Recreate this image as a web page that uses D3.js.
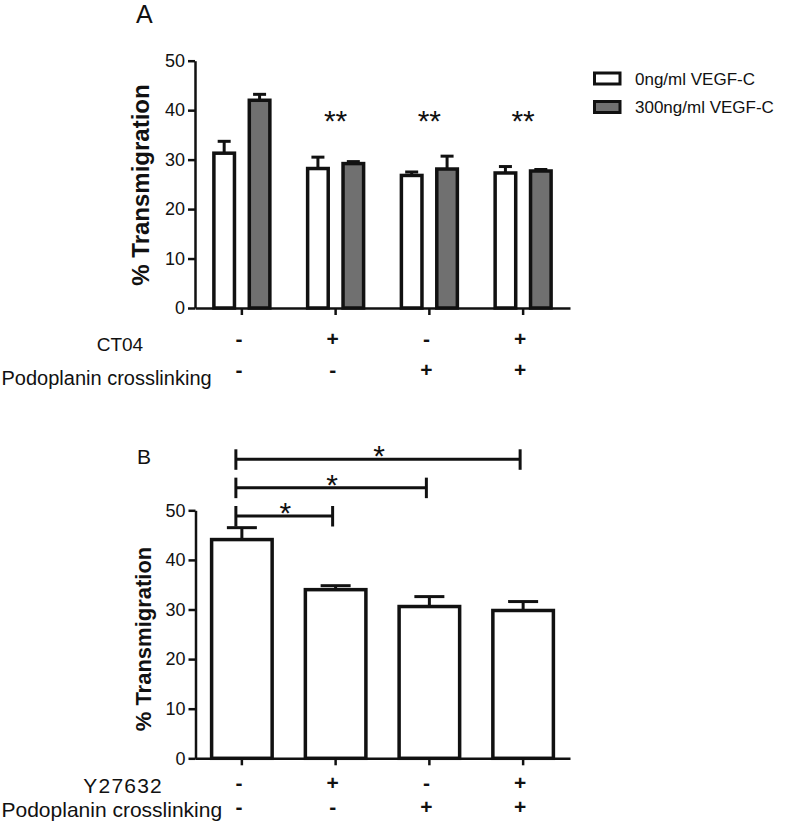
<!DOCTYPE html>
<html>
<head>
<meta charset="utf-8">
<script src="https://cdn.jsdelivr.net/npm/d3@7"></script>
<style>
  html, body { margin: 0; padding: 0; background: #fff; }
  svg { display: block; font-family: "Liberation Sans", Arial, sans-serif; }
</style>
</head>
<body>
<svg id="chart" width="800" height="829"></svg>
<script>
// ---------- DATA ----------
const groupsA = ["Control", "CT04", "Podoplanin", "CT04 + Podoplanin"];
const seriesNames = ["0ng/ml VEGF-C", "300ng/ml VEGF-C"];
const meanA0 = [31.3, 28.2, 26.8, 27.3];
const semA0 = [2.4, 2.3, 0.7, 1.3];
const meanA300 = [42.0, 29.2, 28.1, 27.7];
const semA300 = [1.2, 0.4, 2.6, 0.3];
const sigA = ["", "**", "**", "**"];
const ct04Row = ["-", "+", "-", "+"];
const podoRowA = ["-", "-", "+", "+"];

const groupsB = ["Control", "Y27632", "Podoplanin", "Y27632 + Podoplanin"];
const meanB = [44.1, 34.0, 30.6, 29.8];
const semB = [2.4, 0.8, 2.0, 1.8];
const y27Row = ["-", "+", "-", "+"];
const podoRowB = ["-", "-", "+", "+"];
const comparisonsB = [
  { from: 0, to: 1, label: "*" },
  { from: 0, to: 2, label: "*" },
  { from: 0, to: 3, label: "*" }
];
const yTicks = [0, 10, 20, 30, 40, 50];

// ---------- STYLE ----------
const ink = "#111";
const grey = "#707070";
const barStroke = 3.5;
const axisStroke = 2.5;
const svg = d3.select("#chart");

function drawYAxis(g, y, x0) {
  const ax = g.append("g").attr("transform", `translate(${x0},0)`)
    .call(d3.axisLeft(y).tickValues(yTicks).tickSize(7).tickPadding(3).tickSizeOuter(0));
  ax.select(".domain").attr("stroke", ink).attr("stroke-width", axisStroke);
  ax.selectAll(".tick line").attr("stroke", ink).attr("stroke-width", axisStroke);
  ax.selectAll(".tick text").attr("fill", ink).attr("font-size", 18)
    .attr("font-family", '"Liberation Sans", Arial, sans-serif');
  return ax;
}
function drawXAxis(g, x, y0) {
  const ax = g.append("g").attr("transform", `translate(0,${y0})`)
    .call(d3.axisBottom(x).tickSize(7).tickSizeOuter(0).tickFormat(""));
  ax.select(".domain").attr("stroke", ink).attr("stroke-width", axisStroke);
  ax.selectAll(".tick line").attr("stroke", ink).attr("stroke-width", axisStroke);
  return ax;
}
function errorBar(g, cx, yTop, yErr, capW) {
  g.append("line").attr("x1", cx).attr("x2", cx).attr("y1", yTop).attr("y2", yErr)
    .attr("stroke", ink).attr("stroke-width", 3);
  g.append("line").attr("x1", cx - capW / 2).attr("x2", cx + capW / 2).attr("y1", yErr).attr("y2", yErr)
    .attr("stroke", ink).attr("stroke-width", 3);
}
function signRow(g, x, groups, labels, baseline) {
  g.selectAll(null).data(labels).enter().append("text")
    .attr("x", (d, i) => x(groups[i]) + x.bandwidth() / 2 - 3)
    .attr("y", baseline)
    .attr("text-anchor", "middle")
    .attr("font-size", 21)
    .attr("font-weight", "bold")
    .attr("fill", ink)
    .text(d => d);
}

// ---------- PANEL A ----------
const gA = svg.append("g");
const xA = d3.scaleBand().domain(groupsA).range([195, 570]).paddingInner(0).paddingOuter(0);
const yA = d3.scaleLinear().domain([0, 50]).range([308, 60.7]);
const sub = d3.scaleBand().domain([0, 1]).range([-35.4, 35.4]).paddingInner(0.32).paddingOuter(0.16);

const seriesA = [
  { name: seriesNames[0], mean: meanA0, sem: semA0, fill: "#fff" },
  { name: seriesNames[1], mean: meanA300, sem: semA300, fill: grey }
];

seriesA.forEach((s, si) => {
  groupsA.forEach((gname, i) => {
    const cx = xA(gname) + xA.bandwidth() / 2 + sub(si) + sub.bandwidth() / 2;
    const w = sub.bandwidth() - barStroke;
    errorBar(gA, cx, yA(s.mean[i]), yA(s.mean[i] + s.sem[i]), 13);
    gA.append("rect")
      .attr("x", cx - w / 2).attr("width", w)
      .attr("y", yA(s.mean[i])).attr("height", yA(0) - yA(s.mean[i]))
      .attr("fill", s.fill).attr("stroke", ink).attr("stroke-width", barStroke);
  });
});
drawYAxis(gA, yA, 195);
drawXAxis(gA, xA, 308);

// significance stars A
gA.selectAll(".sigA").data(sigA).enter().append("text")
  .attr("x", (d, i) => xA(groupsA[i]) + xA.bandwidth() / 2)
  .attr("y", 130.5)
  .attr("text-anchor", "middle")
  .attr("font-size", 30)
  .attr("fill", ink)
  .text(d => d);

// Y label A
gA.append("text")
  .attr("transform", "translate(148.5,185) rotate(-90)")
  .attr("text-anchor", "middle").attr("font-size", 24).attr("font-weight", "bold").attr("fill", ink)
  .text("% Transmigration");

// panel label A
svg.append("text").attr("x", 136).attr("y", 23).attr("font-size", 25).attr("fill", ink).text("A");

// legend
seriesA.forEach((s, i) => {
  const ly = [71.5, 100][i];
  gA.append("rect").attr("x", 594.5).attr("y", ly + 1.5).attr("width", 25.5).attr("height", 11)
    .attr("fill", s.fill).attr("stroke", ink).attr("stroke-width", 3);
  gA.append("text").attr("x", 635).attr("y", ly + 13).attr("font-size", 17).attr("fill", ink).text(s.name);
});

// row labels A
gA.append("text").attr("x", 96.7).attr("y", 350.7).attr("font-size", 19).attr("fill", ink).text("CT04");
gA.append("text").attr("x", 1.5).attr("y", 385).attr("font-size", 20).attr("fill", ink).text("Podoplanin crosslinking");
signRow(gA, xA, groupsA, ct04Row, 346);
signRow(gA, xA, groupsA, podoRowA, 377);

// ---------- PANEL B ----------
const gB = svg.append("g");
const xB = d3.scaleBand().domain(groupsB).range([195, 570]).paddingInner(0.317).paddingOuter(0.1585);
const yB = d3.scaleLinear().domain([0, 50]).range([758.3, 510.3]);

groupsB.forEach((gname, i) => {
  const cx = xB(gname) + xB.bandwidth() / 2;
  const w = xB.bandwidth() - barStroke;
  errorBar(gB, cx, yB(meanB[i]), yB(meanB[i] + semB[i]), 30);
  gB.append("rect")
    .attr("x", cx - w / 2).attr("width", w)
    .attr("y", yB(meanB[i])).attr("height", yB(0) - yB(meanB[i]))
    .attr("fill", "#fff").attr("stroke", ink).attr("stroke-width", barStroke);
});
drawYAxis(gB, yB, 195.5);
const xBaxis = d3.scaleBand().domain(groupsB).range([195, 570]);
drawXAxis(gB, xBaxis, 758.3);

// comparison brackets
comparisonsB.forEach((c, i) => {
  const ly = yB(50) + 5.7 - i * 28.35;
  const x1 = xB(groupsB[c.from]) + xB.bandwidth() / 2 - 6;
  const x2 = xB(groupsB[c.to]) + xB.bandwidth() / 2 - 3;
  gB.append("line").attr("x1", x1).attr("x2", x2).attr("y1", ly).attr("y2", ly)
    .attr("stroke", ink).attr("stroke-width", 3);
  [x1, x2].forEach(xx => gB.append("line").attr("x1", xx).attr("x2", xx)
    .attr("y1", ly - 10).attr("y2", ly + 10.5).attr("stroke", ink).attr("stroke-width", 3));
  gB.append("text").attr("x", (x1 + x2) / 2 + 1).attr("y", ly + 7)
    .attr("text-anchor", "middle").attr("font-size", 30).attr("fill", ink).text(c.label);
});

// Y label B
gB.append("text")
  .attr("transform", "translate(150.5,639) rotate(-90)")
  .attr("text-anchor", "middle").attr("font-size", 22).attr("font-weight", "bold").attr("fill", ink)
  .text("% Transmigration");

svg.append("text").attr("x", 137).attr("y", 464).attr("font-size", 21).attr("fill", ink).text("B");

gB.append("text").attr("x", 83.3).attr("y", 793.3).attr("font-size", 21).attr("letter-spacing", 1.2)
  .attr("fill", ink).text("Y27632");
gB.append("text").attr("x", 1.5).attr("y", 817.3).attr("font-size", 21).attr("fill", ink).text("Podoplanin crosslinking");
signRow(gB, xBaxis, groupsB, y27Row, 789.5);
signRow(gB, xBaxis, groupsB, podoRowB, 814);
</script>
</body>
</html>
